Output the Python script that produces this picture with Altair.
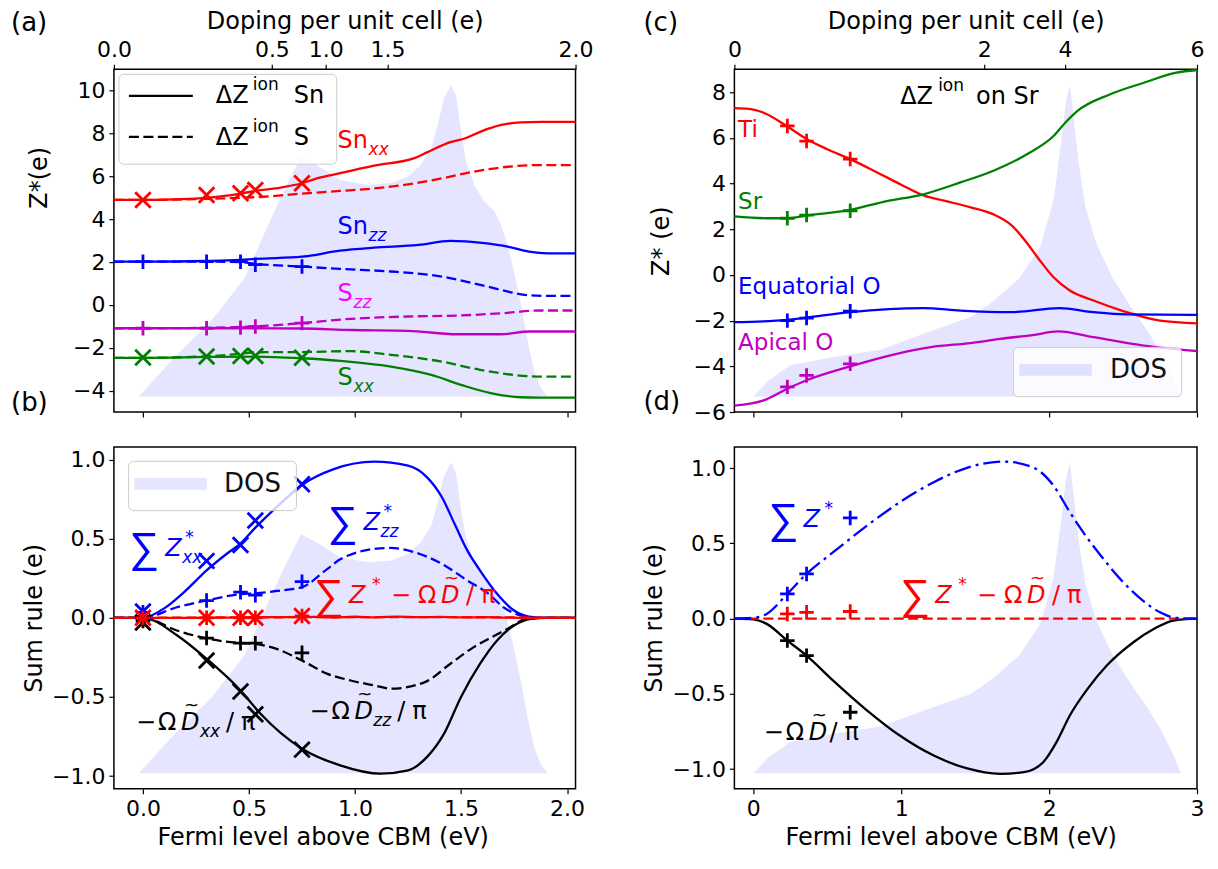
import altair as alt
import pandas as pd

FONT = "DejaVu Sans"
SIGFONT = "Liberation Sans"
RED, BLUE, GREEN, MAG, MAGL, BLK = "#ff0000", "#0000ff", "#008000", "#bf00bf", "#ff00ff", "#000000"

# ================= left panels (a), (b) =================
XDOM_L = [-0.137, 2.04]
dos_l_x = [-0.137, -0.02, 0.16, 0.32, 0.48, 0.57, 0.67, 0.745, 0.79, 0.87, 0.93, 1.06, 1.17, 1.25,
           1.31, 1.36, 1.39, 1.42, 1.453, 1.476, 1.50, 1.524, 1.563, 1.61, 1.657, 1.689, 1.72, 1.75,
           1.783, 1.815, 1.846, 1.877, 1.909, 2.04]
dos_l_y = [0, 0, 0.134, 0.241, 0.38, 0.519, 0.668, 0.77, 0.754, 0.722, 0.695, 0.679, 0.685, 0.706,
           0.743, 0.797, 0.872, 0.957, 1.0, 0.968, 0.85, 0.754, 0.679, 0.626, 0.594, 0.551, 0.487, 0.401,
           0.294, 0.176, 0.08, 0.027, 0, 0]
top_l_pos = [-0.137, 0.608, 0.862, 1.153, 2.04]
top_l_lab = ["0.0", "0.5", "1.0", "1.5", "2.0"]

# panel (a)
snxx_sn_x = [-0.137, 0.0, 0.15, 0.30, 0.46, 0.53, 0.65, 0.75, 0.82, 0.93, 1.09, 1.28, 1.34, 1.45, 1.52, 1.59, 1.69, 1.78, 1.88, 2.04]
snxx_sn_y = [4.90, 4.90, 4.93, 5.0, 5.2, 5.32, 5.48, 5.68, 5.91, 6.15, 6.5, 6.85, 7.12, 7.6, 7.78, 8.08, 8.40, 8.52, 8.55, 8.55]
snxx_s_x = [-0.137, 0.0, 0.30, 0.46, 0.57, 0.75, 0.93, 1.09, 1.25, 1.41, 1.56, 1.72, 1.88, 2.04]
snxx_s_y = [4.90, 4.90, 4.95, 5.0, 5.05, 5.2, 5.32, 5.44, 5.63, 5.91, 6.22, 6.45, 6.53, 6.53]
snzz_sn_x = [-0.137, 0.0, 0.30, 0.46, 0.53, 0.75, 0.93, 1.09, 1.30, 1.45, 1.61, 1.72, 1.82, 1.91, 2.04]
snzz_sn_y = [2.02, 2.02, 2.05, 2.1, 2.15, 2.25, 2.53, 2.67, 2.80, 2.99, 2.88, 2.72, 2.49, 2.41, 2.41]
snzz_s_x = [-0.137, 0.0, 0.30, 0.46, 0.53, 0.75, 0.93, 1.17, 1.41, 1.56, 1.69, 1.80, 1.91, 2.04]
snzz_s_y = [2.02, 2.02, 2.02, 2.0, 1.92, 1.79, 1.68, 1.56, 1.32, 1.01, 0.70, 0.47, 0.42, 0.42]
szz_sn_x = [-0.137, 0.0, 0.30, 0.53, 0.75, 0.98, 1.25, 1.48, 1.69, 1.82, 2.04]
szz_sn_y = [-1.09, -1.09, -1.09, -1.09, -1.1, -1.17, -1.21, -1.37, -1.37, -1.24, -1.24]
szz_s_x = [-0.137, 0.0, 0.30, 0.46, 0.53, 0.75, 0.98, 1.25, 1.48, 1.69, 1.88, 2.04]
szz_s_y = [-1.09, -1.09, -1.07, -1.03, -1.0, -0.85, -0.65, -0.54, -0.50, -0.39, -0.26, -0.26]
sxx_sn_x = [-0.137, 0.0, 0.30, 0.53, 0.75, 0.93, 1.17, 1.36, 1.50, 1.64, 1.78, 1.88, 2.04]
sxx_sn_y = [-2.47, -2.47, -2.43, -2.41, -2.49, -2.61, -2.88, -3.27, -3.73, -4.12, -4.31, -4.33, -4.33]
sxx_s_x = [-0.137, 0.0, 0.30, 0.46, 0.53, 0.75, 0.98, 1.17, 1.41, 1.59, 1.75, 1.91, 2.04]
sxx_s_y = [-2.47, -2.47, -2.40, -2.28, -2.21, -2.20, -2.16, -2.33, -2.65, -3.03, -3.27, -3.35, -3.35]

mk_l_x = [0.0, 0.30, 0.46, 0.53, 0.75]
mk_a_snxx = [4.90, 5.13, 5.21, 5.37, 5.68]
mk_a_snzz = [2.02, 2.02, 2.02, 1.88, 1.79]
mk_a_szz = [-1.09, -1.09, -1.06, -1.01, -0.85]
mk_a_sxx = [-2.45, -2.41, -2.38, -2.38, -2.47]

# panel (b)
sumxx_x = [-0.137, 0.0, 0.1, 0.2, 0.30, 0.40, 0.46, 0.53, 0.63, 0.75, 0.90, 1.09, 1.25, 1.34, 1.41, 1.47, 1.53, 1.59, 1.67, 1.75, 1.82, 1.90, 2.04]
sumxx_y = [0, 0, 0.06, 0.17, 0.30, 0.41, 0.47, 0.57, 0.70, 0.84, 0.94, 0.987, 0.962, 0.888, 0.762, 0.593, 0.425, 0.299, 0.152, 0.046, 0.008, 0, 0]
sumzz_x = [-0.137, 0.0, 0.16, 0.30, 0.46, 0.53, 0.63, 0.75, 0.87, 0.93, 0.98, 1.09, 1.17, 1.28, 1.41, 1.53, 1.63, 1.70, 1.78, 1.85, 2.04]
sumzz_y = [0, 0, 0.067, 0.11, 0.15, 0.155, 0.17, 0.194, 0.31, 0.37, 0.40, 0.436, 0.442, 0.415, 0.341, 0.236, 0.152, 0.067, 0.015, 0, 0]
dxx_x = [-0.137, 0.0, 0.16, 0.30, 0.46, 0.55, 0.75, 0.93, 1.12, 1.25, 1.34, 1.42, 1.50, 1.59, 1.67, 1.75, 1.83, 1.90, 2.04]
dxx_y = [0, 0, -0.11, -0.259, -0.459, -0.6, -0.827, -0.932, -0.985, -0.964, -0.879, -0.732, -0.50, -0.29, -0.143, -0.048, -0.006, 0, 0]
dzz_x = [-0.137, 0.0, 0.16, 0.30, 0.46, 0.53, 0.63, 0.75, 0.87, 0.98, 1.09, 1.17, 1.33, 1.45, 1.56, 1.66, 1.72, 1.80, 1.87, 2.04]
dzz_y = [0, 0, -0.08, -0.13, -0.16, -0.165, -0.196, -0.27, -0.354, -0.396, -0.427, -0.448, -0.406, -0.29, -0.185, -0.112, -0.069, -0.01, 0, 0]
tot_x = [-0.137, 0.0, 0.2, 0.4, 0.6, 0.8, 0.9, 1.0, 1.1, 1.2, 1.3, 1.4, 1.5, 1.6, 1.7, 1.8, 2.04]
tot_y = [0, 0, 0.0, 0.002, 0.004, 0.006, 0.002, 0.007, 0.003, 0.008, 0.004, 0.006, 0.003, 0.004, 0.002, 0, 0]
totd_x = [-0.137, 0.5, 1.0, 1.5, 2.04]
totd_y = [0, 0.003, 0.005, 0.004, 0]
mk_b_sumxx = [0.04, 0.36, 0.46, 0.615, 0.845]
mk_b_sumzz = [0.035, 0.109, 0.162, 0.143, 0.229]
mk_b_tot = [0.0, 0.0, 0.0, 0.0, 0.012]
mk_b_dxx = [-0.03, -0.27, -0.465, -0.61, -0.833]
mk_b_dzz = [-0.02, -0.128, -0.16, -0.16, -0.221]

# ================= right panels (c), (d) =================
XDOM_R = [-0.128, 3.0]
dos_r_x = [-0.128, 0.0, 0.1, 0.25, 0.52, 0.86, 1.2, 1.47, 1.62, 1.80, 1.94, 2.03, 2.075, 2.115, 2.14,
           2.165, 2.20, 2.245, 2.32, 2.43, 2.57, 2.66, 2.75, 2.84, 2.89, 3.0]
dos_r_y = [0, 0, 0.05, 0.10, 0.125, 0.15, 0.21, 0.255, 0.305, 0.38, 0.48, 0.63, 0.79, 0.95, 1.0,
           0.9, 0.75, 0.61, 0.49, 0.38, 0.275, 0.215, 0.145, 0.06, 0.0, 0.0]
top_r_pos = [-0.128, 1.561, 2.108, 3.0]
top_r_lab = ["0", "2", "4", "6"]

ti_x = [-0.128, -0.03, 0.07, 0.23, 0.36, 0.50, 0.655, 0.86, 1.0, 1.15, 1.29, 1.47, 1.62, 1.75, 1.85, 1.93, 2.03, 2.14, 2.30, 2.50, 2.75, 3.0]
ti_y = [7.30, 7.27, 7.1, 6.5, 5.95, 5.5, 5.07, 4.41, 3.95, 3.48, 3.25, 2.96, 2.66, 2.15, 1.4, 0.7, -0.1, -0.68, -1.12, -1.58, -2.0, -2.12]
sr_x = [-0.128, 0.09, 0.23, 0.36, 0.655, 0.88, 1.15, 1.40, 1.62, 1.85, 2.03, 2.12, 2.19, 2.41, 2.64, 2.86, 3.0]
sr_y = [2.56, 2.48, 2.48, 2.6, 2.85, 3.2, 3.53, 4.05, 4.55, 5.28, 6.08, 6.74, 7.17, 7.9, 8.41, 8.85, 8.97]
eq_x = [-0.128, 0.23, 0.36, 0.655, 1.15, 1.40, 1.74, 2.07, 2.30, 2.52, 3.0]
eq_y = [-2.07, -1.97, -1.87, -1.63, -1.45, -1.56, -1.63, -1.45, -1.63, -1.73, -1.75]
ap_x = [-0.128, 0.07, 0.23, 0.36, 0.655, 0.97, 1.20, 1.47, 1.67, 1.90, 2.06, 2.30, 2.64, 3.0]
ap_y = [-5.72, -5.49, -4.98, -4.61, -4.0, -3.45, -3.16, -2.98, -2.8, -2.62, -2.47, -2.72, -3.09, -3.33]
mk_r_x = [0.23, 0.36, 0.655]
mk_c_ti = [6.52, 5.86, 5.07]
mk_c_sr = [2.48, 2.62, 2.81]
mk_c_eq = [-2.0, -1.89, -1.59]
mk_c_ap = [-4.9, -4.4, -3.89]

sumd_x = [-0.128, 0.0, 0.09, 0.23, 0.36, 0.54, 0.77, 0.99, 1.22, 1.44, 1.69, 1.89, 2.03, 2.14, 2.23, 2.35, 2.48, 2.62, 2.75, 2.86, 3.0]
sumd_y = [0, 0.005, 0.031, 0.164, 0.297, 0.441, 0.618, 0.773, 0.906, 1.0, 1.043, 1.005, 0.883, 0.707, 0.574, 0.418, 0.264, 0.131, 0.042, 0.004, 0]
dd_x = [-0.128, 0.0, 0.09, 0.23, 0.36, 0.54, 0.77, 0.99, 1.22, 1.44, 1.67, 1.83, 1.96, 2.05, 2.14, 2.26, 2.39, 2.57, 2.71, 2.84, 3.0]
dd_y = [0, -0.005, -0.035, -0.146, -0.246, -0.412, -0.611, -0.777, -0.91, -0.994, -1.031, -1.02, -0.954, -0.821, -0.644, -0.467, -0.312, -0.157, -0.068, -0.013, 0]
totr_x = [-0.128, 3.0]
totr_y = [0, 0]
mk_d_sum = [0.164, 0.297, 0.669]
mk_d_tot = [0.031, 0.042, 0.047]
mk_d_d = [-0.146, -0.246, -0.622]

# ================= helpers =================
XSH = "M-1,-1L1,1M-1,1L1,-1"
PSH = "M-1,0L1,0M0,-1L0,1"
DASH = [10, 4.5]
DASHDOT = [17, 5, 3, 5]
ONE = pd.DataFrame({"k": [0]})
LW = 2.3
SIG = 42


def label_expr(pos, labs):
    expr = "''"
    for p, l in zip(pos, labs):
        expr = f"abs(datum.value - ({p})) < 0.001 ? '{l}' : " + expr
    return expr


def line(xs, ys, color, XE, YE, dash=None):
    kw = dict(color=color, strokeWidth=LW, interpolate="monotone")
    if dash:
        kw["strokeDash"] = dash
    return alt.Chart(pd.DataFrame({"x": xs, "y": ys})).mark_line(**kw).encode(x=XE, y=YE)


def marks(xs, ys, color, shape, XE, YE):
    size = 240 if shape == XSH else 210
    return alt.Chart(pd.DataFrame({"x": xs, "y": ys})).mark_point(
        shape=shape, filled=False, size=size, strokeWidth=2.8, color=color, opacity=1
    ).encode(x=XE, y=YE)


def rich(x, y, pieces, color, XE, YE):
    d = pd.DataFrame({"x": [x], "y": [y]})
    out = []
    for txt, dx, dy, size, it in pieces:
        fnt = SIGFONT if txt == "∑" else FONT
        out.append(alt.Chart(d).mark_text(
            text=txt, dx=dx, dy=dy, fontSize=size, font=fnt,
            fontStyle="italic" if it else "normal", align="left",
            baseline="middle", color=color).encode(x=XE, y=YE))
    return out


def ptext(x, y, txt, size, color="black", dy=0):
    return alt.Chart(ONE).mark_text(text=txt, fontSize=size, font=FONT, align="left",
                                    baseline="middle", color=color, dy=dy).encode(
        x=alt.value(x), y=alt.value(y))


def box(x1, x2, y1, y2):
    return alt.Chart(ONE).mark_rect(fill="white", fillOpacity=0.8, stroke="#cccccc",
                                    strokeWidth=1, cornerRadius=5).encode(
        x=alt.value(x1), x2=alt.value(x2), y=alt.value(y1), y2=alt.value(y2))


def patch(x1, x2, y1, y2):
    return alt.Chart(ONE).mark_rect(fill="blue", fillOpacity=0.1).encode(
        x=alt.value(x1), x2=alt.value(x2), y=alt.value(y1), y2=alt.value(y2))


def sample(x1, x2, y, dash=None):
    kw = dict(color="black", strokeWidth=LW)
    if dash:
        kw["strokeDash"] = dash
    return alt.Chart(ONE).mark_rule(**kw).encode(x=alt.value(x1), x2=alt.value(x2), y=alt.value(y))


AX = dict(domain=False, grid=False, labelFlush=False, labelOverlap=False, tickSize=5)


def dos_layer(xs, ys, xdom, top):
    if top is None:
        xaxis = None
    else:
        pos, labs, w = top
        xaxis = alt.Axis(orient="top", values=pos, labelExpr=label_expr(pos, labs),
                         title="Doping per unit cell (e)", titleX=w / 2, titleY=-41,
                         titleBaseline="alphabetic", titleAlign="center", labelPadding=3, **AX)
    return alt.Chart(pd.DataFrame({"e": xs, "d": ys})).mark_area(
        fill="blue", fillOpacity=0.1, interpolate="linear").encode(
        x=alt.X("e:Q", scale=alt.Scale(domain=xdom, nice=False, zero=False), axis=xaxis),
        y=alt.Y("d:Q", scale=alt.Scale(domain=[-0.05, 1.05], nice=False, zero=False), axis=None),
        y2=alt.datum(0))


def xenc(dom, values, tx, labels, fmt):
    if labels:
        ax = alt.Axis(values=values, format=fmt, title="Fermi level above CBM (eV)",
                      titleX=tx, titleY=56, titleBaseline="alphabetic", titleAlign="center",
                      labelPadding=5, **AX)
    else:
        ax = alt.Axis(values=values, labels=False, title=None, **AX)
    return alt.X("x:Q", scale=alt.Scale(domain=dom, nice=False, zero=False), axis=ax)


def yenc(dom, values, fmt, title, tx, ty):
    ax = alt.Axis(values=values, format=fmt, title=title, titleX=tx, titleY=ty,
                  titleAngle=270, titleBaseline="alphabetic", titleAlign="center",
                  labelPadding=4, **AX)
    return alt.Y("y:Q", scale=alt.Scale(domain=dom, nice=False, zero=False), axis=ax)


def dtilde(start, sub=None, sub_dx=64, slash_dx=None, gap=0):
    p = [("−", start, 0, 24, False), ("Ω", start + 22 + gap, 0, 24, False),
         ("D", start + 45 + gap, 0, 24, True), ("~", start + 48 + gap, -17, 18, False)]
    if sub:
        p.append((sub, start + sub_dx, 9, 17, True))
    s = slash_dx if slash_dx is not None else start + 66
    p += [("/", s, 0, 24, False), ("π", s + 15, 0, 24, False)]
    return p


# ================= panel (a) =================
WA, HA = 462, 343
XA = xenc(XDOM_L, [0, 0.5, 1.0, 1.5, 2.0], WA / 2, False, None)
YA = yenc([-5, 11], [-4, -2, 0, 2, 4, 6, 8, 10], "d", "Z*(e)", -67, 108)
la = [
    line(snxx_sn_x, snxx_sn_y, RED, XA, YA), line(snxx_s_x, snxx_s_y, RED, XA, YA, DASH),
    line(snzz_sn_x, snzz_sn_y, BLUE, XA, YA), line(snzz_s_x, snzz_s_y, BLUE, XA, YA, DASH),
    line(szz_sn_x, szz_sn_y, MAG, XA, YA), line(szz_s_x, szz_s_y, MAG, XA, YA, DASH),
    line(sxx_sn_x, sxx_sn_y, GREEN, XA, YA), line(sxx_s_x, sxx_s_y, GREEN, XA, YA, DASH),
    marks(mk_l_x, mk_a_snxx, RED, XSH, XA, YA), marks(mk_l_x, mk_a_snzz, BLUE, PSH, XA, YA),
    marks(mk_l_x, mk_a_szz, MAG, PSH, XA, YA), marks(mk_l_x, mk_a_sxx, GREEN, XSH, XA, YA),
]
la += rich(0.918, 7.66, [("Sn", 0, 0, 24, False), ("xx", 31, 9, 17, True)], RED, XA, YA)
la += rich(0.918, 3.65, [("Sn", 0, 0, 24, False), ("zz", 31, 9, 17, True)], BLUE, XA, YA)
la += rich(0.918, 0.51, [("S", 0, 0, 24, False), ("zz", 16, 9, 17, True)], MAGL, XA, YA)
la += rich(0.918, -3.42, [("S", 0, 0, 24, False), ("xx", 16, 9, 17, True)], GREEN, XA, YA)
la += [box(5, 223, 5, 95), sample(15, 79, 26.5), sample(15, 79, 67.7, DASH),
       ptext(102, 26.7, "ΔZ", 24), ptext(139, 26.7, "ion", 17, dy=-11), ptext(180, 26.7, "Sn", 24),
       ptext(102, 68.3, "ΔZ", 24), ptext(139, 68.3, "ion", 17, dy=-11), ptext(180, 68.3, "S", 24),
       ptext(-103, -46, "(a)", 26)]
panel_a = alt.layer(dos_layer(dos_l_x, dos_l_y, XDOM_L, (top_l_pos, top_l_lab, WA)),
                    alt.layer(*la)).resolve_scale(x="independent", y="independent").properties(
    width=WA, height=HA)

# ================= panel (b) =================
WB, HB = 462, 342
XB = xenc(XDOM_L, [0, 0.5, 1.0, 1.5, 2.0], WB / 2 - 22, True, ".1f")
YB = yenc([-1.08, 1.08], [-1.0, -0.5, 0.0, 0.5, 1.0], ".1f", "Sum rule (e)", -72, HB / 2)
SUMP = [("∑", 0, 0, SIG, False), ("Z", 35, 0, 24, True), ("*", 58, -11, 17, False)] + dtilde(77, slash_dx=152, gap=5)
lb = [
    line(sumxx_x, sumxx_y, BLUE, XB, YB), line(sumzz_x, sumzz_y, BLUE, XB, YB, DASH),
    line(dxx_x, dxx_y, BLK, XB, YB), line(dzz_x, dzz_y, BLK, XB, YB, DASH),
    line(totd_x, totd_y, RED, XB, YB, DASH), line(tot_x, tot_y, RED, XB, YB),
    marks(mk_l_x, mk_b_sumxx, BLUE, XSH, XB, YB), marks(mk_l_x, mk_b_sumzz, BLUE, PSH, XB, YB),
    marks(mk_l_x, mk_b_dxx, BLK, XSH, XB, YB), marks(mk_l_x, mk_b_dzz, BLK, PSH, XB, YB),
    marks(mk_l_x, mk_b_tot, RED, XSH, XB, YB), marks(mk_l_x, mk_b_tot, RED, PSH, XB, YB),
]
lb += rich(-0.065, 0.435, [("∑", 0, 0, SIG, False), ("Z", 36, 0, 24, True), ("*", 56, -11, 17, False),
                           ("xx", 53, 9, 17, True)], BLUE, XB, YB)
lb += rich(0.871, 0.60, [("∑", 0, 0, SIG, False), ("Z", 36, 0, 24, True), ("*", 56, -11, 17, False),
                         ("zz", 53, 9, 17, True)], BLUE, XB, YB)
lb += rich(0.807, 0.14, SUMP, RED, XB, YB)
lb += rich(-0.033, -0.663, dtilde(0, "xx", 64, 90), BLK, XB, YB)
lb += rich(0.785, -0.593, dtilde(0, "zz", 64, 88), BLK, XB, YB)
lb += [box(14.7, 182.7, 14.3, 63.7), patch(20.3, 93, 31, 42.7), ptext(110.3, 37, "DOS", 26, "#111111"),
       ptext(-103, -44, "(b)", 26)]
panel_b = alt.layer(dos_layer(dos_l_x, dos_l_y, XDOM_L, None),
                    alt.layer(*lb)).resolve_scale(x="independent", y="independent").properties(
    width=WB, height=HB)

# ================= panel (c) =================
WC, HC = 463, 343
XC = xenc(XDOM_R, [0, 1, 2, 3], WC / 2, False, None)
YC = yenc([-6, 9], [-6, -4, -2, 0, 2, 4, 6, 8], "d", "Z* (e)", -66, HC / 2)
lc = [
    line(ti_x, ti_y, RED, XC, YC), line(sr_x, sr_y, GREEN, XC, YC),
    line(eq_x, eq_y, BLUE, XC, YC), line(ap_x, ap_y, MAG, XC, YC),
    marks(mk_r_x, mk_c_ti, RED, PSH, XC, YC), marks(mk_r_x, mk_c_sr, GREEN, PSH, XC, YC),
    marks(mk_r_x, mk_c_eq, BLUE, PSH, XC, YC), marks(mk_r_x, mk_c_ap, MAG, PSH, XC, YC),
]
lc += rich(-0.103, 6.34, [("Ti", 0, 0, 23, False)], RED, XC, YC)
lc += rich(-0.103, 3.21, [("Sr", 0, 0, 23, False)], GREEN, XC, YC)
lc += rich(-0.103, -0.52, [("Equatorial O", 0, 0, 23, False)], BLUE, XC, YC)
lc += rich(-0.103, -2.97, [("Apical O", 0, 0, 23, False)], MAG, XC, YC)
lc += rich(0.993, 7.77, [("ΔZ", 0, 0, 24, False), ("ion", 38, -11, 17, False), ("on Sr", 76, 0, 24, False)],
           BLK, XC, YC)
lc += [box(279.3, 447.7, 278.3, 327.7), patch(285.3, 357.7, 295, 306.7),
       ptext(376, 300.7, "DOS", 26, "#111111"), ptext(-91, -46, "(c)", 26)]
panel_c = alt.layer(dos_layer(dos_r_x, dos_r_y, XDOM_R, (top_r_pos, top_r_lab, WC)),
                    alt.layer(*lc)).resolve_scale(x="independent", y="independent").properties(
    width=WC, height=HC)

# ================= panel (d) =================
WD, HD = 463, 342
XD = xenc(XDOM_R, [0, 1, 2, 3], WD / 2 - 15, True, "d")
YD = yenc([-1.13, 1.14], [-1.0, -0.5, 0.0, 0.5, 1.0], ".1f", "Sum rule (e)", -73, HD / 2)
ld = [
    line(dd_x, dd_y, BLK, XD, YD), line(totr_x, totr_y, RED, XD, YD, DASH),
    line(sumd_x, sumd_y, BLUE, XD, YD, DASHDOT),
    marks(mk_r_x, mk_d_sum, BLUE, PSH, XD, YD), marks(mk_r_x, mk_d_tot, RED, PSH, XD, YD),
    marks(mk_r_x, mk_d_d, BLK, PSH, XD, YD),
]
ld += rich(0.103, 0.655, [("∑", 0, 0, SIG, False), ("Z", 35, 0, 24, True), ("*", 56, -11, 17, False)],
           BLUE, XD, YD)
ld += rich(0.993, 0.15, SUMP, RED, XD, YD)
ld += rich(0.07, -0.76, dtilde(0, None, 0, 66), BLK, XD, YD)
ld += [ptext(-91, -45, "(d)", 26)]
panel_d = alt.layer(dos_layer(dos_r_x, dos_r_y, XDOM_R, None),
                    alt.layer(*ld)).resolve_scale(x="independent", y="independent").properties(
    width=WD, height=HD)

chart = alt.concat(panel_a, panel_c, panel_b, panel_d, columns=2,
                   spacing={"row": 35, "column": 159}, bounds="flush").properties(
    padding={"left": 2, "top": 0, "right": 5, "bottom": 5}
).configure_axis(
    labelFont=FONT, titleFont=FONT, labelFontSize=22, titleFontSize=24, titleFontWeight="normal",
    labelColor="black", titleColor="black", tickColor="black", tickWidth=1.2
).configure_view(stroke="black", strokeWidth=1.5)

chart.save("out.html", embed_options={"renderer": "svg", "actions": False})
